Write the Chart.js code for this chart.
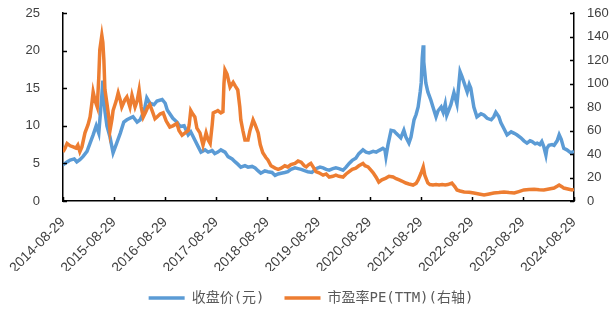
<!DOCTYPE html>
<html>
<head>
<meta charset="utf-8">
<script src="https://cdn.jsdelivr.net/npm/chart.js@4"></script>
<style>
  html, body { margin: 0; padding: 0; background: #fff; }
  #wrap { width: 611px; height: 315px; }
</style>
</head>
<body>
<div id="wrap"><canvas id="chart" width="611" height="315"></canvas></div>
<script>
// x = years since 2014-08-29
const tickLabels = ['2014-08-29', '2015-08-29', '2016-08-29', '2017-08-29', '2018-08-29', '2019-08-29',
  '2020-08-29', '2021-08-29', '2022-08-29', '2023-08-29', '2024-08-29'];

const seriesNames = ['收盘价(元)', '市盈率PE(TTM)(右轴)'];

// 收盘价 (left axis)
const closePrice = [
  [0.00, 4.8], [0.08, 5.2], [0.14, 5.45], [0.22, 5.6], [0.27, 5.2], [0.33, 5.5], [0.39, 5.9], [0.47, 6.6],
  [0.53, 7.7], [0.59, 8.8], [0.65, 10.0], [0.70, 9.0], [0.76, 14.0], [0.78, 16.0], [0.82, 12.0], [0.86, 10.0],
  [0.92, 8.5], [0.98, 6.4], [1.04, 7.5], [1.12, 9.0], [1.19, 10.5], [1.25, 10.8], [1.37, 11.2], [1.45, 10.5],
  [1.51, 10.8], [1.59, 12.0], [1.64, 13.7], [1.70, 13.0], [1.78, 12.8], [1.84, 13.3], [1.94, 13.5], [2.00, 13.0],
  [2.04, 12.1], [2.15, 11.0], [2.23, 10.5], [2.29, 9.9], [2.37, 10.0], [2.45, 8.8], [2.50, 9.2], [2.58, 8.1],
  [2.64, 7.3], [2.70, 6.5], [2.78, 6.8], [2.84, 6.5], [2.92, 6.7], [2.97, 6.3], [3.03, 6.5], [3.09, 6.8],
  [3.17, 6.5], [3.23, 5.9], [3.31, 5.6], [3.37, 5.2], [3.42, 4.9], [3.48, 4.5], [3.56, 4.7], [3.62, 4.5],
  [3.70, 4.6], [3.76, 4.4], [3.82, 4.0], [3.87, 3.7], [3.95, 4.0], [4.01, 3.9], [4.09, 3.8], [4.15, 3.4],
  [4.21, 3.6], [4.27, 3.7], [4.34, 3.8], [4.40, 3.9], [4.46, 4.2], [4.54, 4.4], [4.60, 4.3], [4.66, 4.2],
  [4.74, 4.0], [4.79, 3.9], [4.87, 3.8], [4.95, 4.3], [5.03, 4.5], [5.09, 4.4], [5.15, 4.2], [5.21, 4.1],
  [5.28, 4.3], [5.34, 4.4], [5.40, 4.3], [5.48, 4.1], [5.54, 4.5], [5.60, 5.0], [5.66, 5.4], [5.73, 5.7],
  [5.79, 6.3], [5.87, 6.8], [5.93, 6.5], [5.99, 6.4], [6.07, 6.6], [6.13, 6.5], [6.18, 6.7], [6.26, 7.0],
  [6.30, 6.8], [6.32, 5.9], [6.36, 7.5], [6.42, 9.4], [6.48, 9.3], [6.52, 9.0], [6.58, 8.6], [6.61, 8.4],
  [6.67, 9.4], [6.71, 8.5], [6.77, 7.7], [6.81, 8.5], [6.87, 10.8], [6.91, 11.5], [6.95, 12.5], [6.99, 14.5],
  [7.01, 15.7], [7.03, 19.0], [7.05, 20.7], [7.06, 18.5], [7.10, 15.7], [7.14, 14.5], [7.20, 13.4], [7.24, 12.5],
  [7.30, 11.2], [7.34, 12.0], [7.40, 12.5], [7.44, 11.8], [7.48, 12.9], [7.51, 11.4], [7.59, 12.8], [7.65, 14.4],
  [7.71, 12.9], [7.77, 17.2], [7.81, 16.5], [7.85, 15.7], [7.91, 14.5], [7.95, 15.5], [7.98, 15.0], [8.04, 12.5],
  [8.10, 11.2], [8.18, 11.6], [8.24, 11.4], [8.30, 11.0], [8.38, 10.8], [8.43, 11.2], [8.47, 11.8], [8.53, 11.2],
  [8.57, 10.4], [8.63, 9.6], [8.69, 8.8], [8.77, 9.2], [8.83, 9.0], [8.88, 8.8], [8.96, 8.4], [9.02, 8.0],
  [9.08, 7.7], [9.14, 8.0], [9.18, 7.9], [9.24, 7.6], [9.28, 7.7], [9.33, 7.5], [9.37, 7.9], [9.41, 7.2],
  [9.45, 6.1], [9.47, 7.0], [9.51, 7.4], [9.57, 7.5], [9.61, 7.4], [9.67, 8.0], [9.71, 8.8], [9.75, 8.2],
  [9.80, 7.0], [9.86, 6.8], [9.94, 6.4], [10.00, 6.6]
];

// 市盈率PE(TTM) (right axis)
const peTTM = [
  [0.00, 41.7], [0.04, 45], [0.08, 49], [0.14, 47], [0.20, 46], [0.25, 45], [0.29, 47.6], [0.33, 42],
  [0.37, 46], [0.43, 58], [0.49, 65], [0.53, 71.5], [0.57, 85], [0.59, 92.8], [0.63, 85], [0.67, 80],
  [0.70, 105], [0.72, 128.5], [0.76, 141], [0.78, 135], [0.80, 120], [0.82, 95], [0.86, 83], [0.90, 70],
  [0.92, 60], [0.96, 70], [0.98, 77], [1.04, 85], [1.08, 92], [1.12, 86], [1.15, 80], [1.21, 86],
  [1.25, 88.5], [1.31, 80], [1.35, 90], [1.41, 80], [1.45, 85], [1.49, 94.5], [1.53, 80], [1.57, 71.5],
  [1.62, 76], [1.66, 80], [1.70, 82], [1.76, 75], [1.80, 70], [1.84, 71.5], [1.90, 74], [1.96, 75],
  [2.02, 68], [2.09, 63], [2.15, 64], [2.23, 66], [2.27, 60], [2.33, 56], [2.39, 58], [2.45, 60],
  [2.47, 65], [2.50, 77], [2.54, 74], [2.58, 71.5], [2.62, 62], [2.68, 58], [2.74, 47.6], [2.80, 58],
  [2.84, 52], [2.88, 49], [2.92, 65], [2.94, 75], [2.99, 76], [3.03, 77], [3.09, 75], [3.13, 76],
  [3.15, 100], [3.17, 111.5], [3.21, 108], [3.27, 97], [3.33, 101], [3.37, 98], [3.42, 94.5], [3.46, 80],
  [3.48, 69], [3.52, 60], [3.56, 52], [3.62, 52], [3.66, 60], [3.72, 69], [3.76, 65], [3.82, 58],
  [3.86, 48], [3.91, 41], [3.97, 37], [4.01, 35], [4.07, 30], [4.15, 28], [4.21, 27], [4.27, 28],
  [4.34, 30], [4.40, 29], [4.46, 31], [4.54, 32], [4.60, 34], [4.66, 33], [4.72, 30], [4.76, 29],
  [4.81, 31], [4.85, 32], [4.91, 28], [4.95, 25], [5.01, 24], [5.09, 22], [5.15, 23], [5.21, 20.4],
  [5.28, 21], [5.34, 22], [5.40, 21], [5.48, 20.4], [5.54, 23], [5.60, 25], [5.66, 27], [5.73, 28],
  [5.79, 30], [5.87, 32], [5.91, 30], [5.97, 29], [6.03, 26], [6.07, 24], [6.13, 20], [6.18, 16],
  [6.24, 18], [6.32, 19.5], [6.38, 21], [6.46, 20.4], [6.52, 19], [6.58, 17.9], [6.63, 17], [6.71, 15.3],
  [6.77, 14.5], [6.85, 13.6], [6.91, 15], [6.95, 17.9], [7.01, 24], [7.05, 29], [7.08, 22], [7.14, 15.3],
  [7.18, 14], [7.24, 13.6], [7.30, 14], [7.36, 13.6], [7.42, 14], [7.48, 13.6], [7.53, 14], [7.61, 15.3],
  [7.67, 12], [7.71, 9.4], [7.77, 8.5], [7.85, 7.7], [7.95, 7.5], [8.04, 6.8], [8.14, 6], [8.24, 5.1],
  [8.34, 6], [8.43, 6.8], [8.53, 7.2], [8.63, 7.7], [8.73, 7.2], [8.83, 6.8], [8.92, 8], [9.02, 9.4],
  [9.12, 9.8], [9.22, 10], [9.32, 9.6], [9.41, 9.4], [9.51, 10.2], [9.61, 11], [9.67, 12.5], [9.71, 13.6],
  [9.77, 12], [9.80, 11], [9.88, 10.2], [9.96, 9.4], [10.00, 9.8]
];

const COLORS = { price: '#5B9BD5', pe: '#ED7D31', axis: '#000000', text: '#404040', legend: '#595959' };
const TICK_FONT = { family: "'Liberation Sans', Arial, sans-serif", size: 13 };
const X_TICK_FONT = { family: "'Liberation Sans', Arial, sans-serif", size: 14 };
const LEGEND_FONT = { family: "'DejaVu Sans Mono', 'Noto Sans CJK SC', monospace", size: 14 };

function toPoints(pairs) {
  return pairs.map(([x, y]) => ({ x, y }));
}

// graduations courtes tournées vers l'intérieur
const innerTicks = {
  id: 'innerTicks',
  afterDraw(chart) {
    const { ctx, chartArea, scales } = chart;
    const len = 4;
    ctx.save();
    ctx.strokeStyle = COLORS.axis;
    ctx.lineWidth = 1.5;
    ctx.beginPath();
    scales.x.ticks.forEach(t => {
      const px = Math.round(scales.x.getPixelForValue(t.value)) + 0.5;
      ctx.moveTo(px, chartArea.bottom);
      ctx.lineTo(px, chartArea.bottom - len);
    });
    scales.y.ticks.forEach(t => {
      const py = Math.round(scales.y.getPixelForValue(t.value)) + 0.5;
      ctx.moveTo(chartArea.left, py);
      ctx.lineTo(chartArea.left + len, py);
    });
    scales.y1.ticks.forEach(t => {
      const py = Math.round(scales.y1.getPixelForValue(t.value)) + 0.5;
      ctx.moveTo(chartArea.right, py);
      ctx.lineTo(chartArea.right - len, py);
    });
    ctx.stroke();
    ctx.restore();
  }
};

function lineDataset(label, pairs, color, yAxisID, order) {
  return {
    label,
    data: toPoints(pairs),
    borderColor: color,
    backgroundColor: color,
    borderWidth: 3.5,
    pointRadius: 0,
    pointStyle: 'line',
    tension: 0,
    yAxisID,
    order
  };
}

// espace invisible entre axe et étiquettes (tickLength) au lieu de ticks.padding
function hiddenGrid(gap) {
  return { drawOnChartArea: false, drawTicks: true, tickLength: gap, tickColor: 'rgba(0,0,0,0)' };
}

new Chart(document.getElementById('chart'), {
  type: 'line',
  data: {
    datasets: [
      lineDataset(seriesNames[0], closePrice, COLORS.price, 'y', 1),
      lineDataset(seriesNames[1], peTTM, COLORS.pe, 'y1', 0)
    ]
  },
  options: {
    responsive: false,
    animation: false,
    layout: { padding: { top: 13, left: 11, right: 0, bottom: 0 } },
    plugins: {
      tooltip: { enabled: false },
      legend: {
        position: 'bottom',
        labels: {
          usePointStyle: true,
          pointStyleWidth: 36,
          padding: 20,
          color: COLORS.legend,
          font: LEGEND_FONT,
          sort: (a, b) => a.datasetIndex - b.datasetIndex
        }
      }
    },
    scales: {
      x: {
        type: 'linear',
        min: 0,
        max: 10,
        grid: hiddenGrid(9),
        border: { display: true, color: COLORS.axis, width: 1.5 },
        ticks: {
          stepSize: 1,
          autoSkip: false,
          minRotation: 45,
          maxRotation: 45,
          padding: 4,
          color: COLORS.text,
          font: X_TICK_FONT,
          callback: (v) => tickLabels[v]
        },
        afterFit: (s) => { s.height = 70; }
      },
      y: {
        position: 'left',
        min: 0,
        max: 25,
        grid: hiddenGrid(19),
        border: { display: true, color: COLORS.axis, width: 1.5 },
        ticks: { stepSize: 5, padding: 4, color: COLORS.text, font: TICK_FONT },
        afterFit: (s) => { s.width = 52; }
      },
      y1: {
        position: 'right',
        min: 0,
        max: 160,
        grid: hiddenGrid(9),
        border: { display: true, color: COLORS.axis, width: 1.5 },
        ticks: { stepSize: 20, padding: 4, color: COLORS.text, font: TICK_FONT },
        afterFit: (s) => { s.width = 37; }
      }
    }
  },
  plugins: [innerTicks]
});
</script>
</body>
</html>
